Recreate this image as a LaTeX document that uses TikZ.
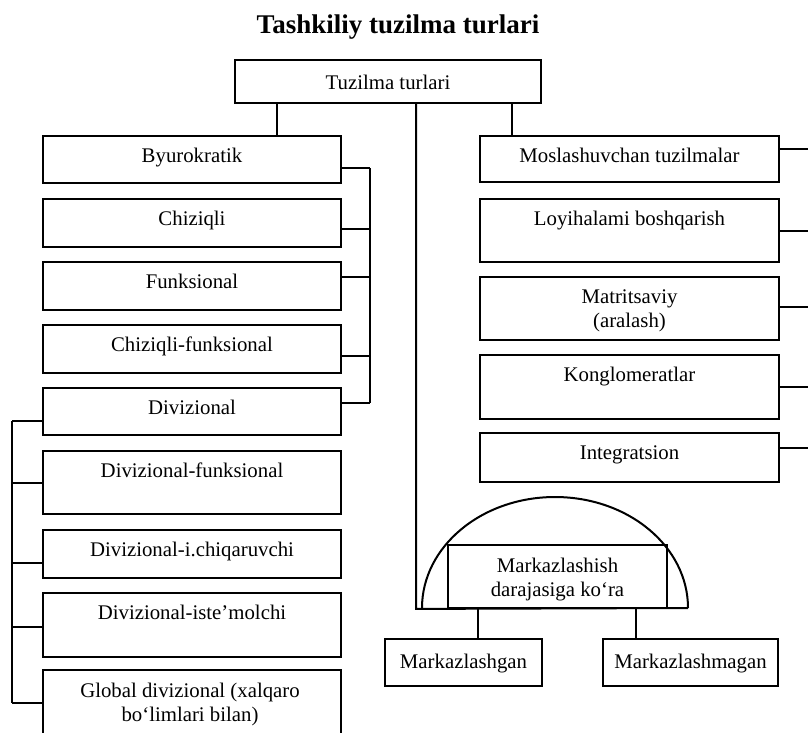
\documentclass[tikz,border=0pt]{standalone}
\usepackage{fontspec}
\setmainfont{Liberation Serif}
\tikzset{
  box/.style={draw, line width=1.8pt, inner sep=0pt, rectangle},
  txt/.style={font=\fontsize{20.8}{24}\selectfont, inner sep=0pt, align=center},
  link/.style={line width=2pt},
}
\begin{document}
\begin{tikzpicture}[x=1pt,y=-1pt]
\useasboundingbox (0,0) rectangle (808,732);
\clip (0,0) rectangle (808,732);

% title
\node[font=\fontsize{27}{30}\selectfont\bfseries, anchor=base, inner sep=0pt] (title) at (398,33) {Tashkiliy tuzilma turlari};

% top box
\node[box, minimum width=306pt, minimum height=43pt] (top) at (388,81.5) {};
\node[txt, anchor=base] (top-t) at (388,89) {Tuzilma turlari};

% left column
\foreach \n/\c/\h/\t in {byu/159.5/47/Byurokratik, chiz/223/48/Chiziqli, funk/286/48/Funksional, chf/349/48/Chiziqli-funksional, div/411.5/47/Divizional, divf/482.5/63/Divizional-funksional, divi/554/48/Divizional-i.chiqaruvchi, dive/625/64/Divizional-iste’molchi}{
  \node[box, minimum width=298pt, minimum height=\h pt] (\n) at (192,\c) {};
  \node[txt, anchor=base] (\n-t) at ([yshift=-27pt]\n.north) {\t};
}
\node[box, minimum width=298pt, minimum height=66pt] (glob) at (192,703) {};
\node[txt] (glob-t) at (190,704) {Global divizional (xalqaro\\bo‘limlari bilan)};

% right column
\foreach \n/\c/\h/\t in {mos/159/46/Moslashuvchan tuzilmalar, loy/230.5/63/Loyihalami boshqarish, kon/387/64/Konglomeratlar, int/457.5/49/Integratsion}{
  \node[box, minimum width=299pt, minimum height=\h pt] (\n) at (629.5,\c) {};
  \node[txt, anchor=base] (\n-t) at ([yshift=-27pt]\n.north) {\t};
}
\node[box, minimum width=299pt, minimum height=63pt] (mat) at (629.5,308.5) {};
\node[txt] (mat-t) at (629.5,311) {Matritsaviy\\(aralash)};

% centralisation
\node[box, minimum width=219pt, minimum height=63pt] (mark) at (557.5,576.5) {};
\node[txt] (mark-t) at (557.5,580) {Markazlashish\\darajasiga ko‘ra};
\node[box, minimum width=157pt, minimum height=47pt] (mgan) at (463.5,662.5) {};
\node[txt, anchor=base] (mgan-t) at (463.5,668) {Markazlashgan};
\node[box, minimum width=175pt, minimum height=47pt] (mmag) at (690.5,662.5) {};
\node[txt, anchor=base] (mmag-t) at (690.5,668) {Markazlashmagan};

\coordinate (arcL) at (422,608);
\coordinate (arcR) at (688,608);
\draw[link] (arcL) arc[start angle=180, end angle=0, x radius=133pt, y radius=111pt];

% connectors from top box
\coordinate (t1) at ([xshift=-111pt]top.south);
\coordinate (t2) at ([xshift=28pt]top.south);
\coordinate (t3) at ([xshift=124pt]top.south);
\draw[link] (t1) -- (t1 |- byu.north);
\draw[link] (t3) -- (t3 |- mos.north);
\draw[link] (t2) -- (t2 |- mark.south) -- (arcR);

% right bracket of left column
\coordinate (lbx) at (370,0);
\foreach \n/\s in {byu/-8.5, chiz/-6, funk/9, chf/-7, div/8.5}{
  \coordinate (e\n) at ([yshift=\s pt]\n.east);
  \draw[link] (e\n) -- (e\n -| lbx);
}
\draw[link] (ebyu -| lbx) -- (ediv -| lbx);

% left bracket of divisional group
\coordinate (llx) at (12,0);
\foreach \n/\s in {div/-9.5, divf/0, divi/-9, dive/-2, glob/0}{
  \coordinate (w\n) at ([yshift=\s pt]\n.west);
  \draw[link] (w\n) -- (w\n -| llx);
}
\draw[link] (wdiv -| llx) -- (wglob -| llx);

% right column connectors
\coordinate (rx) at (810,0);
\foreach \n/\s in {mos/10, loy/0, mat/1.5, kon/0, int/9.5}{
  \coordinate (r\n) at ([yshift=\s pt]\n.east);
  \draw[link] (r\n) -- (r\n -| rx);
}

% down to centralised / decentralised
\coordinate (d1) at ([xshift=14.5pt]mgan.north);
\coordinate (d2) at ([xshift=-54.5pt]mmag.north);
\draw[link] (d1) -- (d1 |- mark.south);
\draw[link] (d2) -- (d2 |- mark.south);
\end{tikzpicture}
\end{document}
